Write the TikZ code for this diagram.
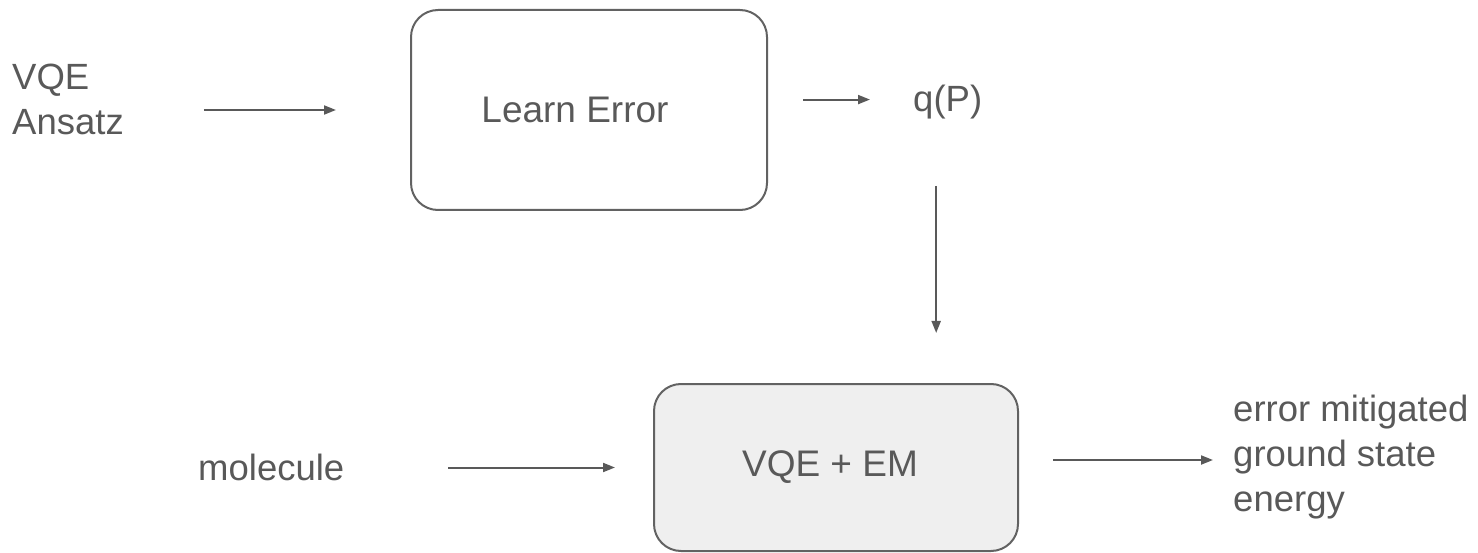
\documentclass[tikz,border=0pt]{standalone}
\usepackage{fontspec}
\setmainfont{Liberation Sans}
\usetikzlibrary{arrows.meta}
\definecolor{ink}{HTML}{595959}
\definecolor{edge}{HTML}{626262}
\definecolor{panel}{HTML}{EFEFEF}
\tikzset{
  txt/.style={inner sep=0pt, text=ink, font=\fontsize{36.5}{45}\selectfont},
  stagebox/.style={draw=edge, line width=2pt, rounded corners=27pt,
    inner sep=0pt, text=ink, font=\fontsize{37}{45}\selectfont},
  arr/.style={draw=ink, line width=2pt,
    -{Triangle[length=12pt,width=9pt]}},
}
\begin{document}
\begin{tikzpicture}[x=1pt,y=-1pt]
  \useasboundingbox (0,0) rectangle (1478,553);

  % processing stages (labels sit a little left of the box centre)
  \node[stagebox, minimum width=356pt, minimum height=200pt] (learn) at (589,110) {Learn Error\hspace*{28pt}};
  \node[stagebox, fill=panel, minimum width=364pt, minimum height=167pt] (em) at (836,467.5) {VQE + EM\hspace*{12pt}};

  % inputs and outputs
  \node[txt, anchor=west, align=left] (ans) at (12,99) {VQE\\Ansatz};
  \node[txt, anchor=base west] (q) at (913,112) {q(P)};
  \node[txt, anchor=base west] (mol) at (198,480) {molecule};
  \node[txt, anchor=west, align=left] (res) at (1233,457) {error mitigated\\ground state\\energy};

  % data flow
  \draw[arr, shorten <=80pt, shorten >=74pt] (ans.east |- learn.west) -- (learn.west);
  \draw[arr, shorten <=35pt, shorten >=43pt] ([yshift=3pt]learn.east |- q.west) -- ([yshift=3pt]q.west);
  \draw[arr, shorten <=66pt, shorten >=50pt] ([xshift=-11.5pt]q.south) -- ([xshift=-11.5pt]q.south |- em.north);
  \draw[arr, shorten <=104pt, shorten >=38pt] (mol.east |- em.west) -- (em.west);
  \draw[arr, shorten <=34pt, shorten >=20pt] ([yshift=-3pt]em.east |- res.west) -- ([yshift=-3pt]res.west);
\end{tikzpicture}
\end{document}
